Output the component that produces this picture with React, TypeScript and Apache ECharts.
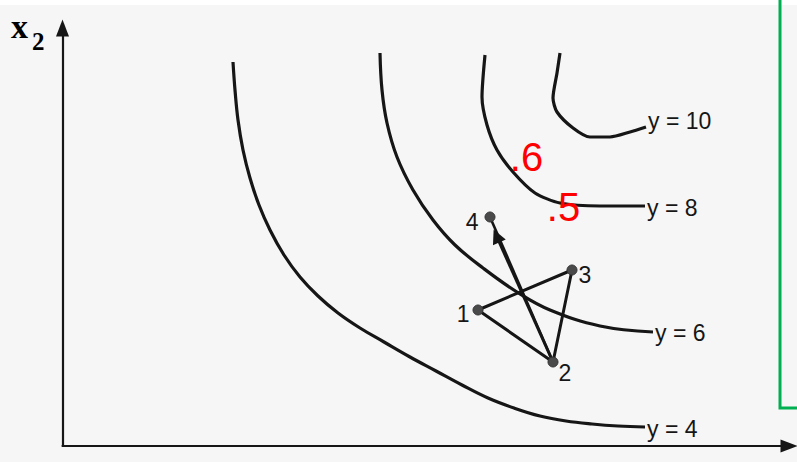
import React, { useEffect, useRef } from "react";
import * as echarts from "echarts";

// Coordinates in figure units (x1 across, x2 up)
const curveY4: number[][] = [
  [17.05, 38.4], [17.25, 35.6], [17.55, 32.6], [18.05, 29.6], [18.75, 26.8], [19.65, 24.1],
  [20.75, 21.6], [22.15, 19.1], [23.75, 16.9], [25.55, 15.0], [27.55, 13.3], [29.75, 11.8],
  [32.15, 10.4], [34.75, 8.9], [37.35, 7.5], [39.95, 6.1], [42.55, 4.8], [45.15, 3.8],
  [47.75, 3.0], [50.35, 2.5], [52.95, 2.2], [55.55, 2.0], [58.25, 1.9],
];
const curveY6: number[][] = [
  [31.75, 39.3], [31.95, 35.6], [32.45, 32.3], [33.45, 28.9], [35.05, 25.6], [37.05, 22.6],
  [39.25, 20.1], [42.05, 17.8], [45.45, 15.4], [48.75, 13.6], [53.75, 12.0], [59.05, 11.4],
];
const curveY8: number[][] = [
  [42.25, 39.1], [41.95, 34.9], [42.45, 32.1], [43.45, 29.6], [45.05, 27.4], [47.25, 25.3],
  [49.75, 24.3], [53.75, 24.0], [58.25, 24.0],
];
const curveY10: number[][] = [
  [49.75, 39.3], [49.45, 37.3], [49.05, 34.8], [49.45, 33.4], [51.05, 31.8], [52.75, 30.9],
  [54.75, 30.9], [56.75, 31.4], [58.35, 31.9],
];
const curveLabels = ["y = 4", "y = 6", "y = 8", "y = 10"];

const pointNames = ["1", "2", "3", "4"];
const pointCoords: number[][] = [
  [41.55, 13.6], // 1
  [49.05, 8.4],  // 2
  [50.95, 17.6], // 3
  [42.75, 22.9], // 4
];
const arrowHead: number[] = [43.4, 21.0];

const redNotes = [".6", ".5"];
const redNoteCoords: number[][] = [
  [46.4, 28.9],
  [50.1, 23.9],
];

const X_MAX = 72.65;
const Y_MAX = 41.8;

const INK = "#161616";
const SANS = "'Liberation Sans', Arial, Helvetica, sans-serif";

export default function App() {
  const ref = useRef<HTMLDivElement>(null);

  useEffect(() => {
    document.body.style.margin = "0";
    if (!ref.current) return;
    const chart = echarts.init(ref.current, null, { renderer: "svg" });

    const curves = [curveY4, curveY6, curveY8, curveY10];
    const endOffsets = [[0, 2], [0, 1], [0, 2], [0, -6]];
    const curveSeries = curves.map((data, i) => ({
      type: "line",
      name: curveLabels[i],
      data,
      smooth: i < 2 ? 0.4 : 0.25,
      symbol: "none",
      lineStyle: { color: INK, width: 3.2 },
      endLabel: {
        show: true,
        formatter: curveLabels[i],
        distance: 2,
        offset: endOffsets[i],
        fontFamily: SANS,
        fontSize: 23,
        color: INK,
      },
      silent: true,
      z: 2,
    }));

    const p = (name: string) => pointCoords[pointNames.indexOf(name)];

    const labelCfg: Record<string, any> = {
      "1": { position: "left", distance: 3, offset: [0, 4] },
      "2": { position: "right", distance: 0, offset: [0, 11] },
      "3": { position: "right", distance: 1, offset: [0, 5] },
      "4": { position: "left", distance: 6, offset: [0, 5] },
    };

    const option: any = {
      animation: false,
      backgroundColor: "#f6f6f6",
      grid: { left: 62.5, right: 8, top: 28, bottom: 16 },
      xAxis: {
        type: "value",
        min: 0,
        max: X_MAX,
        axisLine: {
          show: true,
          symbol: ["none", "triangle"],
          symbolSize: [13, 17],
          lineStyle: { color: INK, width: 2.2 },
        },
        axisTick: { show: false },
        axisLabel: { show: false },
        splitLine: { show: false },
      },
      yAxis: {
        type: "value",
        min: 0,
        max: Y_MAX,
        axisLine: {
          show: true,
          symbol: ["none", "triangle"],
          symbolSize: [13, 17],
          lineStyle: { color: INK, width: 2.2 },
        },
        axisTick: { show: false },
        axisLabel: { show: false },
        splitLine: { show: false },
      },
      graphic: [
        {
          type: "rect",
          shape: { x: 0, y: 0, width: 797, height: 5 },
          style: { fill: "#ffffff" },
          z: -1,
        },
        {
          type: "polyline",
          shape: { points: [[780, 0], [780, 408], [800, 408]] },
          style: { stroke: "#00b050", lineWidth: 3, fill: null },
          z: 10,
        },
        {
          type: "text",
          x: 11,
          y: 9,
          style: {
            text: "{a|x}{b|2}",
            rich: {
              a: {
                fontFamily: "'Liberation Serif', 'DejaVu Serif', serif",
                fontWeight: "bold",
                fontSize: 34,
                lineHeight: 30,
                verticalAlign: "top",
                color: INK,
              },
              b: {
                fontFamily: "'Liberation Serif', 'DejaVu Serif', serif",
                fontWeight: "bold",
                fontSize: 25,
                lineHeight: 24,
                verticalAlign: "top",
                padding: [20, 0, 0, 4],
                color: INK,
              },
            },
          },
        },
      ],
      series: [
        ...curveSeries,
        {
          type: "line",
          name: "path",
          data: [p("1"), p("3"), p("2"), p("1")],
          symbol: "none",
          lineStyle: { color: INK, width: 3 },
          silent: true,
          z: 3,
        },
        {
          type: "line",
          name: "step",
          data: [p("2"), p("4")],
          symbol: "none",
          lineStyle: { color: INK, width: 2.6 },
          silent: true,
          z: 3,
        },
        {
          type: "lines",
          coordinateSystem: "cartesian2d",
          data: [{ coords: [p("2"), arrowHead] }],
          symbol: ["none", "triangle"],
          symbolSize: 14,
          lineStyle: { color: INK, width: 3, opacity: 1 },
          itemStyle: { color: "#333333" },
          silent: true,
          z: 4,
        },
        {
          type: "scatter",
          name: "points",
          data: pointNames.map((n, i) => ({
            name: n,
            value: pointCoords[i],
            label: labelCfg[n],
          })),
          symbol: "circle",
          symbolSize: 10,
          itemStyle: { color: "#4a4a4a", borderColor: "#333333", borderWidth: 1, opacity: 1 },
          label: {
            show: true,
            formatter: "{b}",
            fontFamily: SANS,
            fontSize: 23,
            color: INK,
            opacity: 1,
          },
          silent: true,
          z: 5,
        },
        {
          type: "scatter",
          name: "notes",
          data: redNotes.map((n, i) => ({ name: n, value: redNoteCoords[i] })),
          symbolSize: 0,
          itemStyle: { opacity: 1 },
          label: {
            show: true,
            position: "inside",
            formatter: "{b}",
            fontFamily: SANS,
            fontSize: 40,
            color: "#ff0000",
            opacity: 1,
          },
          silent: true,
          z: 6,
        },
      ],
    };

    chart.setOption(option);
    return () => chart.dispose();
  }, []);

  return <div ref={ref} style={{ width: 797, height: 462 }} />;
}
